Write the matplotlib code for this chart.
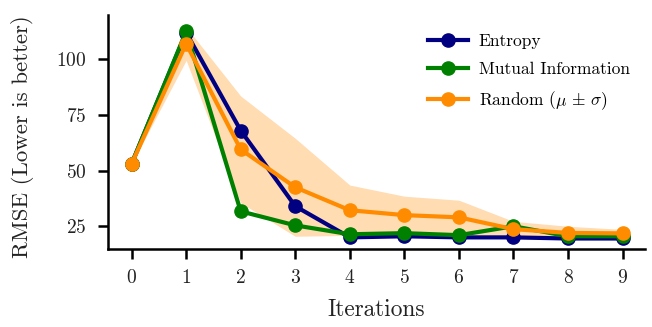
import matplotlib
matplotlib.use("Agg")
import matplotlib.pyplot as plt
import numpy as np

plt.rcParams['font.family'] = 'serif'
plt.rcParams['font.serif'] = ['cmr10']
plt.rcParams['mathtext.fontset'] = 'cm'
plt.rcParams['axes.formatter.use_mathtext'] = True

# RMSE per iteration for each acquisition strategy
iterations = np.arange(10)
entropy = [53, 112, 68, 34, 20, 20.5, 20, 20, 19.5, 19.5]
mutual_info = [53, 112.5, 31.7, 25.4, 21.4, 21.9, 21, 25, 20.5, 20.5]
random_mean = [53, 107, 59.5, 42.5, 32.2, 30, 29, 23.7, 22, 21.8]
random_std = [0, 7.5, 24, 22, 11.3, 8.5, 7.7, 3.5, 3, 1.8]

random_mean = np.array(random_mean)
random_std = np.array(random_std)

fig, ax = plt.subplots(figsize=(6.52, 3.27), dpi=100)

ax.fill_between(iterations, random_mean - random_std, random_mean + random_std,
                color='darkorange', alpha=0.3, linewidth=0)
ax.plot(iterations, entropy, '-o', color='navy', lw=3, ms=9.5, label='Entropy')
ax.plot(iterations, mutual_info, '-o', color='green', lw=3, ms=9.5, label='Mutual Information')
ax.plot(iterations, random_mean, '-o', color='darkorange', lw=3, ms=9.5,
        label=r'Random ($\mu\,\pm\,\sigma$)')

ax.set_xlim(-0.44, 9.42)
ax.set_ylim(15, 120)
ax.set_xticks(iterations)
ax.set_yticks([25, 50, 75, 100])
ax.set_xlabel('Iterations', fontsize=16.8, color='#222222')
ax.set_ylabel('RMSE (Lower is better)', fontsize=16.5, color='#222222')
ax.xaxis.set_label_coords(0.5, -0.215)
ax.yaxis.set_label_coords(-0.137, 0.48)
ax.tick_params(labelsize=14, width=1.8, length=7, pad=8, labelcolor='#222222')
for side in ['left', 'bottom']:
    ax.spines[side].set_linewidth(1.8)
ax.spines['top'].set_visible(False)
ax.spines['right'].set_visible(False)

ax.legend(frameon=False, fontsize=12.5, loc='upper right', bbox_to_anchor=(1.0, 0.985),
          handlelength=2.3, labelspacing=0.72, handletextpad=0.65)

plt.subplots_adjust(left=0.165, right=0.99, top=0.955, bottom=0.24)
plt.savefig('out.png', dpi=100)
